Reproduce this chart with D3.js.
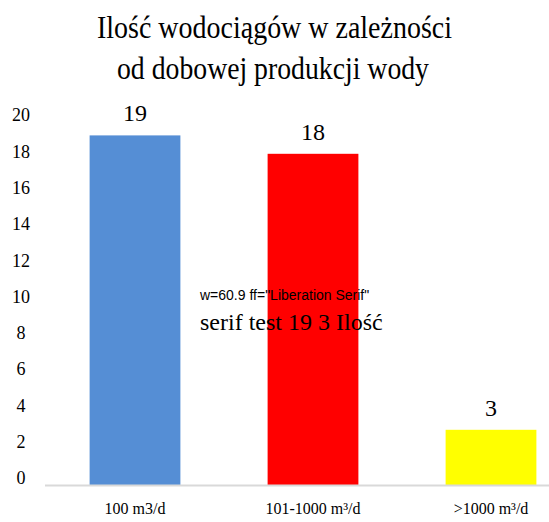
<!DOCTYPE html>
<html>
<head>
<meta charset="utf-8">
<script src="https://cdn.jsdelivr.net/npm/d3@7"></script>
<style>
  body { margin: 0; background: #fff; }
</style>
</head>
<body>
<svg id="chart" width="549" height="522"></svg>
<script>
// data
var categories = ["100 m3/d", "101-1000 m³/d", ">1000 m³/d"];
var values = [19, 18, 3];
var colors = ["#558ed5", "#ff0000", "#ffff00"];
var yTicks = [0, 2, 4, 6, 8, 10, 12, 14, 16, 18, 20];
var titleLines = ["Ilość wodociągów w zależności", "od dobowej produkcji wody"];

var svg = d3.select("#chart");
var FONT = "Liberation Serif";

var x = d3.scaleBand()
  .domain(categories)
  .range([46, 580])
  .paddingInner(0.49)
  .paddingOuter(0.245);

var y = d3.scaleLinear()
  .domain([0, 20])
  .range([485, 117]);

// title
svg.append("text").attr("x", 274.5).attr("y", 38)
  .attr("font-family", FONT)
  .attr("text-anchor", "middle")
  .attr("font-size", 31)
  .attr("textLength", 355).attr("lengthAdjust", "spacingAndGlyphs")
  .text(titleLines[0]);
svg.append("text").attr("x", 273).attr("y", 79)
  .attr("font-family", FONT)
  .attr("text-anchor", "middle")
  .attr("font-size", 31)
  .attr("textLength", 312).attr("lengthAdjust", "spacingAndGlyphs")
  .text(titleLines[1]);

// y tick labels
svg.append("g").selectAll("text")
  .data(yTicks)
  .enter().append("text")
  .attr("font-family", FONT)
  .attr("x", 21)
  .attr("y", function(d) { return y(d) - 7 + d * 0.25; })
  .attr("dy", "0.35em")
  .attr("text-anchor", "middle")
  .attr("font-size", 18)
  .text(function(d) { return d; });

// bars
svg.append("g").selectAll("rect")
  .data(values)
  .enter().append("rect")
  .attr("x", function(d, i) { return x(categories[i]); })
  .attr("y", function(d) { return y(d); })
  .attr("width", x.bandwidth())
  .attr("height", function(d) { return y(0) - y(d); })
  .attr("fill", function(d, i) { return colors[i]; });

// baseline
svg.append("line")
  .attr("x1", 45).attr("x2", 549)
  .attr("y1", y(0) + 0.5).attr("y2", y(0) + 0.5)
  .attr("stroke", "#d9d9d9").attr("stroke-width", 2);

// value labels
var vl = svg.append("g").selectAll("text")
  .data(values)
  .enter().append("text")
  .attr("font-family", FONT)
  .attr("x", function(d, i) { return x(categories[i]) + x.bandwidth() / 2; })
  .attr("y", function(d) { return y(d) - 14; })
  .attr("text-anchor", "middle")
  .attr("font-size", 24)
  .text(function(d) { return d; });

// category labels
var cl = svg.append("g").selectAll("text")
  .data(categories)
  .enter().append("text")
  .attr("font-family", FONT)
  .attr("x", function(d) { return x(d) + x.bandwidth() / 2; })
  .attr("y", 514)
  .attr("text-anchor", "middle")
  .attr("font-size", 16)
  .text(function(d) { return d; });

// debug
var w = cl.nodes()[0].getComputedTextLength();
var ff = getComputedStyle(cl.nodes()[0]).fontFamily;
svg.append("text").attr("x", 200).attr("y", 300).attr("font-size", 14)
  .attr("font-family", "Liberation Sans")
  .text("w=" + w.toFixed(1) + " ff=" + ff);
svg.append("text").attr("x", 200).attr("y", 330).attr("font-size", 24)
  .attr("font-family", FONT).text("serif test 19 3 Ilość");
</script>
</body>
</html>
